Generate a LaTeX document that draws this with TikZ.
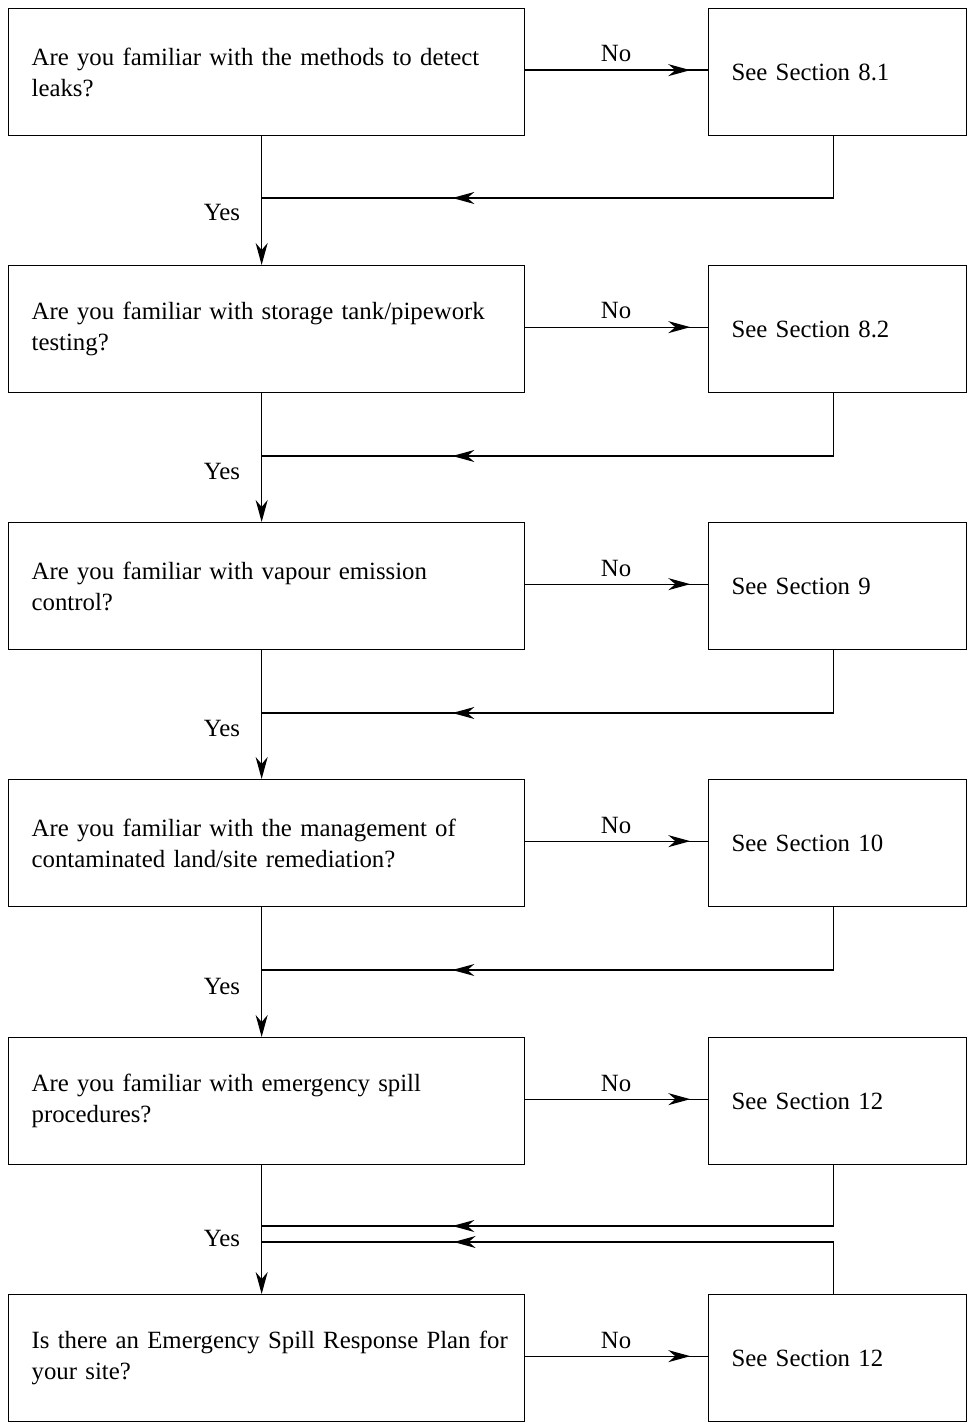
\documentclass[tikz,border=0pt]{standalone}
\usepackage{fontspec}
\setmainfont{Liberation Serif}
\usetikzlibrary{arrows.meta,decorations.markings}
\begin{document}
\begin{tikzpicture}[x=1pt,y=-1pt,
  txt/.style={font=\fontsize{24.8}{31}\selectfont},
  box/.style={txt, draw, line width=1.3pt, minimum height=127pt, inner xsep=23pt, inner ysep=0pt,
              text width=470pt, align=left, anchor=north west},
  sbox/.style={box, text width=212pt},
  lbl/.style={txt, inner sep=0pt},
  ln/.style={line width=1.3pt},
  tip/.style={-{Stealth[length=22pt,width=12pt,inset=7pt]}},
  midarrow/.style={postaction={decorate}, decoration={markings,
      mark=at position #1 with {\arrow{Stealth[length=22pt,width=12pt,inset=7pt]}}}}]
\useasboundingbox (0,0) rectangle (970,1423);

% question boxes
\node[box] (q1) at (8,8)    {\mbox{Are you familiar with the methods to detect}\\leaks?};
\node[box] (q2) at (8,265)  {\mbox{Are you familiar with storage tank/pipework}\\testing?};
\node[box] (q3) at (8,522)  {\mbox{Are you familiar with vapour emission}\\control?};
\node[box] (q4) at (8,779)  {\mbox{Are you familiar with the management of}\\\mbox{contaminated land/site remediation?}};
\node[box] (q5) at (8,1037) {\mbox{Are you familiar with emergency spill}\\procedures?};
\node[box] (q6) at (8,1294) {\mbox{Is there an Emergency Spill Response Plan for}\\your site?};

% section boxes
\node[sbox] (s1) at (708,8)    {See Section 8.1};
\node[sbox] (s2) at (708,265)  {See Section 8.2};
\node[sbox] (s3) at (708,522)  {See Section 9};
\node[sbox] (s4) at (708,779)  {See Section 10};
\node[sbox] (s5) at (708,1037) {See Section 12};
\node[sbox] (s6) at (708,1294) {See Section 12};

% No arrows
\foreach \i/\y in {1/54,2/311,3/568,4/825,5/1083,6/1340}{
  \draw[ln, midarrow=165pt] ([yshift=2pt]q\i.east) -- ([yshift=2pt]s\i.west);
  \node[lbl] (no\i) at (616,\y) {No};
}

% Yes arrows
\foreach \i/\j in {1/2,2/3,3/4,4/5,5/6}{
  \draw[ln, tip] ([xshift=-5pt]q\i.south) -- ([xshift=-5pt]q\j.north);
}

% return lines
\coordinate (j1) at (261,198);
\coordinate (j2) at (261,456);
\coordinate (j3) at (261,713);
\coordinate (j4) at (261,970);
\coordinate (j5) at (261,1226);
\coordinate (j6) at (261,1242);
\draw[ln, midarrow=443pt] ([xshift=-4pt]s1.south) |- (j1);
\draw[ln, midarrow=444pt] ([xshift=-4pt]s2.south) |- (j2);
\draw[ln, midarrow=444pt] ([xshift=-4pt]s3.south) |- (j3);
\draw[ln, midarrow=444pt] ([xshift=-4pt]s4.south) |- (j4);
\draw[ln, midarrow=442pt] ([xshift=-4pt]s5.south) |- (j5);
\draw[ln, midarrow=432pt] ([xshift=-4pt]s6.north) |- (j6);

% Yes labels
\node[lbl] (y1) at (222,213)  {Yes};
\node[lbl] (y2) at (222,471)  {Yes};
\node[lbl] (y3) at (222,728)  {Yes};
\node[lbl] (y4) at (222,986)  {Yes};
\node[lbl] (y5) at (222,1238) {Yes};
\end{tikzpicture}
\end{document}
